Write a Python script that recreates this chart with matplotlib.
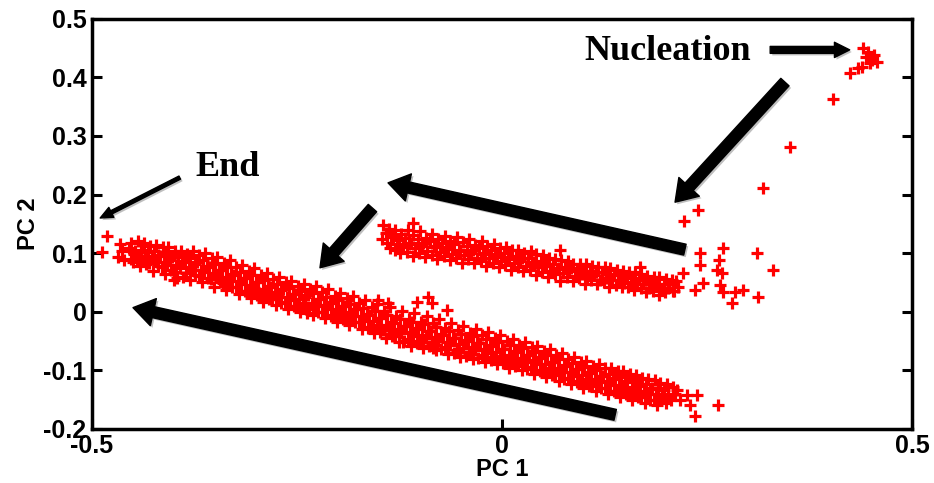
import matplotlib
matplotlib.use("Agg")
import matplotlib.pyplot as plt
import matplotlib.patheffects as pe

# nucleation cluster and the sparse trail leaving it
nuc_x = [0.440, 0.446, 0.454, 0.457, 0.449, 0.439, 0.434, 0.424, 0.444, 0.451,
         0.404, 0.351, 0.318, 0.239, 0.222]
nuc_y = [0.450, 0.444, 0.439, 0.427, 0.425, 0.418, 0.416, 0.408, 0.435, 0.430,
         0.363, 0.281, 0.211, 0.174, 0.155]

# scattered points at the right end of the upper band
tail_x = [0.241, 0.241, 0.270, 0.265, 0.262, 0.268, 0.311, 0.330, 0.266, 0.270,
          0.284, 0.294, 0.281, 0.312, 0.245, 0.235, 0.221]
tail_y = [0.100, 0.080, 0.109, 0.089, 0.071, 0.066, 0.100, 0.071, 0.046, 0.034,
          0.034, 0.037, 0.015, 0.025, 0.049, 0.037, 0.066]

# upper band
up_x = [-0.145, -0.142, -0.146,
        -0.130, -0.133, -0.128, -0.131,
        -0.115, -0.118, -0.113, -0.116, -0.109,
        -0.100, -0.103, -0.098, -0.101,
        -0.085, -0.088, -0.083, -0.086,
        -0.070, -0.073, -0.068, -0.071,
        -0.055, -0.058, -0.053, -0.056,
        -0.040, -0.043, -0.038, -0.041,
        -0.025, -0.028, -0.023, -0.026,
        -0.010, -0.013, -0.008, -0.011,
        0.005, 0.002, 0.007, 0.004,
        0.020, 0.017, 0.022, 0.019,
        0.035, 0.032, 0.037, 0.034,
        0.050, 0.047, 0.052, 0.049,
        0.065, 0.062, 0.067, 0.064, 0.071,
        0.080, 0.077, 0.082, 0.079,
        0.095, 0.092, 0.097, 0.094,
        0.110, 0.107, 0.112, 0.109,
        0.125, 0.122, 0.127, 0.124,
        0.140, 0.137, 0.142, 0.139,
        0.155, 0.152, 0.157, 0.154,
        0.170, 0.167, 0.172, 0.169, 0.168,
        0.185, 0.182, 0.187, 0.184,
        0.200, 0.197, 0.202, 0.199,
        0.212, 0.215, 0.210]
up_y = [0.148, 0.135, 0.124,
        0.140, 0.128, 0.116, 0.105,
        0.139, 0.126, 0.115, 0.102, 0.152,
        0.137, 0.124, 0.112, 0.100,
        0.133, 0.121, 0.110, 0.097,
        0.130, 0.118, 0.107, 0.095,
        0.127, 0.115, 0.104, 0.092,
        0.124, 0.112, 0.101, 0.090,
        0.120, 0.108, 0.098, 0.086,
        0.116, 0.105, 0.094, 0.083,
        0.111, 0.100, 0.090, 0.080,
        0.106, 0.096, 0.087, 0.076,
        0.103, 0.092, 0.082, 0.072,
        0.097, 0.087, 0.078, 0.068,
        0.090, 0.082, 0.073, 0.064, 0.105,
        0.086, 0.077, 0.069, 0.060,
        0.082, 0.073, 0.065, 0.057,
        0.078, 0.070, 0.062, 0.054,
        0.076, 0.067, 0.058, 0.050,
        0.072, 0.063, 0.055, 0.046,
        0.068, 0.060, 0.051, 0.043,
        0.065, 0.056, 0.048, 0.040, 0.077,
        0.060, 0.052, 0.044, 0.036,
        0.056, 0.048, 0.040, 0.033,
        0.052, 0.043, 0.036]

# upper band, points lying between the ones above
up2_x = [-0.138, -0.135, -0.140, -0.136,
         -0.123, -0.126, -0.121, -0.124,
         -0.108, -0.111, -0.106, -0.109,
         -0.093, -0.096, -0.091, -0.094,
         -0.078, -0.081, -0.076, -0.079,
         -0.063, -0.066, -0.061, -0.064,
         -0.048, -0.051, -0.046, -0.049,
         -0.033, -0.036, -0.031, -0.034,
         -0.018, -0.021, -0.016, -0.019,
         -0.003, -0.006, -0.001, -0.004,
         0.012, 0.009, 0.014, 0.011,
         0.027, 0.024, 0.029, 0.026,
         0.042, 0.039, 0.044, 0.041,
         0.057, 0.054, 0.059, 0.056,
         0.072, 0.069, 0.074, 0.071,
         0.087, 0.084, 0.089, 0.086,
         0.102, 0.099, 0.104, 0.101,
         0.117, 0.114, 0.119, 0.116,
         0.132, 0.129, 0.134, 0.131,
         0.147, 0.144, 0.149, 0.146,
         0.162, 0.159, 0.164, 0.161,
         0.177, 0.174, 0.179, 0.176,
         0.192, 0.189, 0.194, 0.191,
         0.207, 0.204, 0.209]
up2_y = [0.141, 0.129, 0.117, 0.109,
         0.133, 0.123, 0.110, 0.101,
         0.131, 0.118, 0.108, 0.096,
         0.126, 0.117, 0.104, 0.094,
         0.125, 0.112, 0.102, 0.090,
         0.120, 0.111, 0.098, 0.089,
         0.119, 0.106, 0.097, 0.084,
         0.114, 0.105, 0.092, 0.083,
         0.112, 0.100, 0.091, 0.078,
         0.108, 0.099, 0.086, 0.077,
         0.106, 0.093, 0.084, 0.071,
         0.100, 0.091, 0.078, 0.069,
         0.098, 0.085, 0.076, 0.063,
         0.091, 0.082, 0.069, 0.060,
         0.088, 0.075, 0.066, 0.053,
         0.082, 0.074, 0.061, 0.053,
         0.081, 0.069, 0.060, 0.048,
         0.076, 0.068, 0.055, 0.047,
         0.075, 0.064, 0.055, 0.043,
         0.069, 0.062, 0.049, 0.042,
         0.068, 0.057, 0.048, 0.037,
         0.061, 0.054, 0.041, 0.034,
         0.059, 0.048, 0.039, 0.029,
         0.054, 0.047, 0.035]

# lower band (main trajectory towards the end state)
low_x = [-0.488, -0.482,
         -0.466, -0.463, -0.468, -0.461,
         -0.452, -0.455, -0.449, -0.453, -0.450,
         -0.437, -0.440, -0.435, -0.438, -0.434,
         -0.422, -0.425, -0.420, -0.423, -0.419,
         -0.407, -0.410, -0.405, -0.408, -0.404,
         -0.392, -0.395, -0.390, -0.393, -0.389, -0.400,
         -0.377, -0.380, -0.375, -0.378, -0.374,
         -0.362, -0.365, -0.360, -0.363, -0.359,
         -0.347, -0.350, -0.345, -0.348, -0.344,
         -0.332, -0.335, -0.330, -0.333, -0.329,
         -0.317, -0.320, -0.315, -0.318, -0.314,
         -0.302, -0.305, -0.300, -0.303, -0.299,
         -0.287, -0.290, -0.285, -0.288, -0.284,
         -0.272, -0.275, -0.270, -0.273, -0.269,
         -0.257, -0.260, -0.255, -0.258, -0.254,
         -0.242, -0.245, -0.240, -0.243, -0.239, -0.238,
         -0.227, -0.230, -0.225, -0.228, -0.224,
         -0.212, -0.215, -0.210, -0.213, -0.209,
         -0.197, -0.200, -0.195, -0.198, -0.194,
         -0.182, -0.185, -0.180, -0.183, -0.179,
         -0.167, -0.170, -0.165, -0.168, -0.164,
         -0.152, -0.155, -0.150, -0.153, -0.149, -0.151,
         -0.137, -0.140, -0.135, -0.138, -0.134, -0.139,
         -0.122, -0.125, -0.120, -0.123, -0.119, -0.121,
         -0.107, -0.110, -0.105, -0.108, -0.104, -0.104,
         -0.092, -0.095, -0.090, -0.093, -0.089, -0.090, -0.085, -0.084,
         -0.077, -0.080, -0.075, -0.078, -0.074,
         -0.062, -0.065, -0.060, -0.063, -0.059, -0.067,
         -0.047, -0.050, -0.045, -0.048, -0.044,
         -0.032, -0.035, -0.030, -0.033, -0.029,
         -0.017, -0.020, -0.015, -0.018, -0.014,
         -0.002, -0.005, 0.000, -0.003, 0.001,
         0.013, 0.010, 0.015, 0.012, 0.016,
         0.028, 0.025, 0.030, 0.027, 0.031,
         0.043, 0.040, 0.045, 0.042, 0.046,
         0.058, 0.055, 0.060, 0.057, 0.061,
         0.073, 0.070, 0.075, 0.072, 0.076,
         0.088, 0.085, 0.090, 0.087, 0.091,
         0.103, 0.100, 0.105, 0.102, 0.106,
         0.118, 0.115, 0.120, 0.117, 0.121,
         0.133, 0.130, 0.135, 0.132, 0.136,
         0.148, 0.145, 0.150, 0.147, 0.151,
         0.163, 0.160, 0.165, 0.162, 0.166,
         0.178, 0.175, 0.180, 0.177, 0.181,
         0.193, 0.190, 0.195, 0.192,
         0.208, 0.211, 0.206,
         0.213, 0.226, 0.238, 0.229, 0.235, 0.217, 0.263]
low_y = [0.102, 0.129,
         0.116, 0.104, 0.094, 0.088,
         0.118, 0.108, 0.099, 0.090, 0.085,
         0.117, 0.106, 0.096, 0.088, 0.081,
         0.114, 0.104, 0.097, 0.086, 0.078,
         0.110, 0.099, 0.089, 0.080, 0.071,
         0.104, 0.094, 0.085, 0.074, 0.060, 0.054,
         0.103, 0.092, 0.082, 0.072, 0.062,
         0.100, 0.088, 0.078, 0.068, 0.057,
         0.094, 0.082, 0.071, 0.061, 0.050,
         0.088, 0.076, 0.064, 0.054, 0.042,
         0.080, 0.068, 0.057, 0.047, 0.036,
         0.074, 0.062, 0.050, 0.040, 0.028,
         0.066, 0.055, 0.044, 0.033, 0.022,
         0.060, 0.048, 0.037, 0.027, 0.015,
         0.053, 0.041, 0.031, 0.020, 0.010,
         0.048, 0.036, 0.026, 0.015, 0.004, -0.002,
         0.044, 0.032, 0.021, 0.010, 0.000,
         0.038, 0.026, 0.015, 0.004, -0.007,
         0.032, 0.020, 0.010, -0.001, -0.012,
         0.027, 0.014, 0.004, -0.007, -0.018,
         0.020, 0.007, -0.004, -0.015, -0.027,
         0.014, 0.001, -0.011, -0.022, -0.034, 0.020,
         0.008, -0.006, -0.018, -0.030, -0.042, 0.015,
         0.002, -0.013, -0.025, -0.037, -0.050, -0.051,
         -0.003, -0.017, -0.029, -0.041, -0.054, 0.017,
         -0.008, -0.021, -0.033, -0.045, -0.058, 0.025, 0.015, -0.062,
         -0.012, -0.026, -0.038, -0.050, -0.063,
         -0.020, -0.033, -0.045, -0.057, -0.070, 0.003,
         -0.025, -0.038, -0.050, -0.062, -0.075,
         -0.030, -0.042, -0.054, -0.066, -0.079,
         -0.034, -0.046, -0.058, -0.070, -0.082,
         -0.040, -0.052, -0.063, -0.075, -0.087,
         -0.046, -0.057, -0.068, -0.080, -0.092,
         -0.051, -0.062, -0.073, -0.085, -0.097,
         -0.058, -0.068, -0.079, -0.090, -0.102,
         -0.064, -0.074, -0.085, -0.096, -0.108,
         -0.071, -0.081, -0.092, -0.103, -0.114,
         -0.078, -0.088, -0.098, -0.109, -0.120,
         -0.084, -0.094, -0.104, -0.115, -0.126,
         -0.090, -0.100, -0.110, -0.120, -0.131,
         -0.096, -0.106, -0.115, -0.125, -0.136,
         -0.101, -0.111, -0.120, -0.130, -0.140,
         -0.108, -0.118, -0.127, -0.136, -0.146,
         -0.114, -0.123, -0.132, -0.141, -0.150,
         -0.122, -0.131, -0.140, -0.150,
         -0.128, -0.140, -0.150,
         -0.133, -0.142, -0.142, -0.159, -0.178, -0.150, -0.159]

# lower band, points lying between the ones above
low2_x = [-0.444, -0.447, -0.442, -0.445, -0.441,
          -0.429, -0.432, -0.427, -0.430, -0.426,
          -0.414, -0.417, -0.412, -0.415, -0.411,
          -0.399, -0.402, -0.397, -0.400, -0.396,
          -0.384, -0.387, -0.382, -0.385, -0.381,
          -0.369, -0.372, -0.367, -0.370, -0.366,
          -0.354, -0.357, -0.352, -0.355, -0.351,
          -0.339, -0.342, -0.337, -0.340, -0.336,
          -0.324, -0.327, -0.322, -0.325, -0.321,
          -0.309, -0.312, -0.307, -0.310, -0.306,
          -0.294, -0.297, -0.292, -0.295, -0.291,
          -0.279, -0.282, -0.277, -0.280, -0.276,
          -0.264, -0.267, -0.262, -0.265, -0.261,
          -0.249, -0.252, -0.247, -0.250, -0.246,
          -0.234, -0.237, -0.232, -0.235, -0.231,
          -0.219, -0.222, -0.217, -0.220, -0.216,
          -0.204, -0.207, -0.202, -0.205, -0.201,
          -0.189, -0.192, -0.187, -0.190, -0.186,
          -0.174, -0.177, -0.172, -0.175, -0.171,
          -0.159, -0.162, -0.157, -0.160, -0.156,
          -0.144, -0.147, -0.142, -0.145, -0.141,
          -0.129, -0.132, -0.127, -0.130, -0.126,
          -0.114, -0.117, -0.112, -0.115, -0.111,
          -0.099, -0.102, -0.097, -0.100, -0.096,
          -0.084, -0.087, -0.082, -0.085, -0.081,
          -0.069, -0.072, -0.067, -0.070, -0.066,
          -0.054, -0.057, -0.052, -0.055, -0.051,
          -0.039, -0.042, -0.037, -0.040, -0.036,
          -0.024, -0.027, -0.022, -0.025, -0.021,
          -0.009, -0.012, -0.007, -0.010, -0.006,
          0.006, 0.003, 0.008, 0.005, 0.009,
          0.021, 0.018, 0.023, 0.020, 0.024,
          0.036, 0.033, 0.038, 0.035, 0.039,
          0.051, 0.048, 0.053, 0.050, 0.054,
          0.066, 0.063, 0.068, 0.065, 0.069,
          0.081, 0.078, 0.083, 0.080, 0.084,
          0.096, 0.093, 0.098, 0.095, 0.099,
          0.111, 0.108, 0.113, 0.110, 0.114,
          0.126, 0.123, 0.128, 0.125, 0.129,
          0.141, 0.138, 0.143, 0.140, 0.144,
          0.156, 0.153, 0.158, 0.155, 0.159,
          0.171, 0.168, 0.173, 0.170, 0.174,
          0.186, 0.183, 0.188, 0.185, 0.189,
          0.201, 0.198, 0.203, 0.200]
low2_y = [0.121, 0.104, 0.093, 0.086, 0.078,
          0.113, 0.102, 0.091, 0.083, 0.070,
          0.111, 0.096, 0.085, 0.077, 0.065,
          0.104, 0.093, 0.080, 0.068, 0.058,
          0.099, 0.087, 0.077, 0.066, 0.055,
          0.097, 0.085, 0.072, 0.061, 0.051,
          0.091, 0.077, 0.066, 0.056, 0.043,
          0.083, 0.072, 0.060, 0.049, 0.037,
          0.077, 0.063, 0.053, 0.042, 0.031,
          0.069, 0.058, 0.045, 0.035, 0.023,
          0.062, 0.051, 0.039, 0.029, 0.017,
          0.056, 0.043, 0.034, 0.021, 0.011,
          0.050, 0.039, 0.026, 0.016, 0.004,
          0.044, 0.031, 0.021, 0.010, -0.001,
          0.038, 0.028, 0.015, 0.004, -0.006,
          0.034, 0.021, 0.011, -0.001, -0.011,
          0.027, 0.016, 0.004, -0.006, -0.017,
          0.023, 0.010, 0.000, -0.011, -0.023,
          0.015, 0.004, -0.008, -0.018, -0.029,
          0.008, -0.005, -0.015, -0.026, -0.037,
          0.001, -0.010, -0.022, -0.032, -0.044,
          -0.007, -0.019, -0.029, -0.041, -0.052,
          -0.012, -0.025, -0.035, -0.046, -0.058,
          -0.017, -0.028, -0.040, -0.050, -0.062,
          -0.020, -0.033, -0.043, -0.054, -0.066,
          -0.028, -0.039, -0.051, -0.060, -0.072,
          -0.032, -0.045, -0.055, -0.066, -0.078,
          -0.037, -0.048, -0.060, -0.070, -0.081,
          -0.040, -0.053, -0.063, -0.074, -0.086,
          -0.045, -0.056, -0.068, -0.078, -0.089,
          -0.050, -0.063, -0.073, -0.084, -0.096,
          -0.056, -0.067, -0.079, -0.089, -0.100,
          -0.060, -0.073, -0.083, -0.094, -0.106,
          -0.067, -0.078, -0.090, -0.100, -0.111,
          -0.073, -0.086, -0.096, -0.107, -0.118,
          -0.080, -0.091, -0.103, -0.113, -0.124,
          -0.085, -0.098, -0.108, -0.119, -0.130,
          -0.092, -0.103, -0.115, -0.125, -0.136,
          -0.096, -0.109, -0.119, -0.130, -0.141,
          -0.102, -0.113, -0.125, -0.135, -0.146,
          -0.106, -0.119, -0.129, -0.140, -0.151,
          -0.113, -0.124, -0.136, -0.146, -0.156,
          -0.117, -0.130, -0.140, -0.151, -0.160,
          -0.124, -0.134, -0.146, -0.156]

xticks = [-0.5, 0, 0.5]
xticklabels = ["-0.5", "0", "0.5"]
yticks = [-0.2, -0.1, 0, 0.1, 0.2, 0.3, 0.4, 0.5]
yticklabels = ["-0.2", "-0.1", "0", "0.1", "0.2", "0.3", "0.4", "0.5"]

# (tail, head, style) for the annotation arrows, data coordinates
big = "simple,head_length=1.5,head_width=2.0,tail_width=0.8"
arrows = [
    ((0.345, 0.392), (0.211, 0.187), big),
    ((0.223, 0.106), (-0.139, 0.220), big),
    ((-0.158, 0.177), (-0.222, 0.075), big),
    ((0.138, -0.176), (-0.450, 0.007), big),
    ((0.327, 0.447), (0.424, 0.447), "simple,head_length=1.1,head_width=1.1,tail_width=0.5"),
    ((-0.393, 0.229), (-0.490, 0.160), "simple,head_length=0.9,head_width=0.8,tail_width=0.25"),
]

plt.rcParams["font.family"] = ["Liberation Sans", "DejaVu Sans"]
fig = plt.figure(figsize=(9.34, 4.83), dpi=100)
ax = fig.add_axes([0.0985, 0.112, 0.878, 0.849])

mk = dict(linestyle="none", marker="+", color="#ff0000", markersize=8, markeredgewidth=2.3)
ax.plot(low_x, low_y, **mk)
ax.plot(low2_x, low2_y, **mk)
ax.plot(up_x, up_y, **mk)
ax.plot(up2_x, up2_y, **mk)
ax.plot(tail_x, tail_y, **mk)
ax.plot(nuc_x, nuc_y, **mk)

shadow = [pe.SimplePatchShadow(offset=(1.5, -1.5), alpha=0.25), pe.Normal()]
for tail, head, style in arrows:
    a = ax.annotate("", xy=head, xytext=tail,
                    arrowprops=dict(arrowstyle=style, color="black", mutation_scale=10,
                                    shrinkA=0, shrinkB=0))
    a.arrow_patch.set_path_effects(shadow)

ax.text(0.101, 0.444, "Nucleation", family="Liberation Serif", fontweight="bold",
        fontsize=26, va="center", ha="left")
ax.text(-0.374, 0.246, "End", family="Liberation Serif", fontweight="bold",
        fontsize=26, va="center", ha="left")

ax.set_xlim(-0.5, 0.5)
ax.set_ylim(-0.2, 0.5)
ax.set_xticks(xticks)
ax.set_xticklabels(xticklabels)
ax.set_yticks(yticks)
ax.set_yticklabels(yticklabels)
ax.tick_params(direction="in", length=7, width=2.2, labelsize=18, pad=4,
               top=False, right=True)
for lab in ax.get_xticklabels() + ax.get_yticklabels():
    lab.set_fontweight("bold")
for s in ax.spines.values():
    s.set_linewidth(2.5)

ax.set_xlabel("PC 1", fontsize=17, fontweight="bold", labelpad=0)
ax.set_ylabel("PC 2", fontsize=17, fontweight="bold", labelpad=2)

fig.savefig("out.png", dpi=100)
